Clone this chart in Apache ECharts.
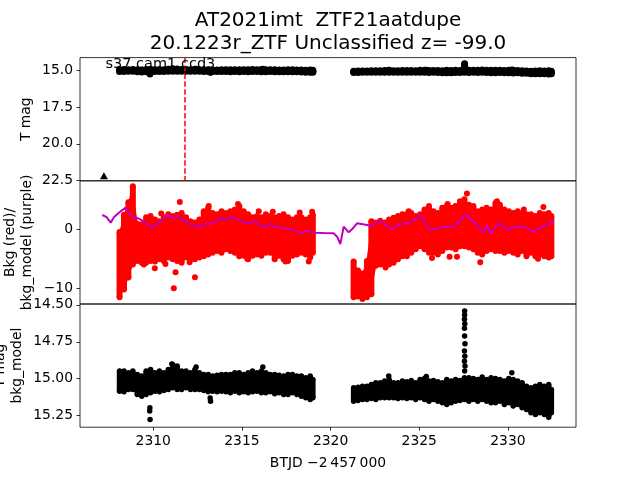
<!DOCTYPE html>
<html><head><meta charset="utf-8">
<script src="https://cdn.jsdelivr.net/npm/echarts@6/dist/echarts.min.js"></script>
<style>html,body{margin:0;padding:0;background:#fff}#c{width:640px;height:480px}</style>
</head><body><div id="c"></div>
<script>
const FONT = 'DejaVu Sans';
// ---------- tick labels ----------
const xTicks = [2310, 2315, 2320, 2325, 2330];
const magTicks = [15.0, 17.5, 20.0, 22.5];
const bkgTicks = [-10, 0];
const zoomTicks = [14.50, 14.75, 15.00, 15.25];
// ---------- segment 1 (BTJD-2457000) ----------
const time1 = [2308.10, 2308.35, 2308.60, 2308.85, 2309.10, 2309.35, 2309.60, 2309.85, 2310.10, 2310.35, 2310.60, 2310.85, 2311.10, 2311.35, 2311.60, 2311.85, 2312.10, 2312.35, 2312.60, 2312.85, 2313.10, 2313.35, 2313.60, 2313.85, 2314.10, 2314.35, 2314.60, 2314.85, 2315.10, 2315.35, 2315.60, 2315.85, 2316.10, 2316.35, 2316.60, 2316.85, 2317.10, 2317.35, 2317.60, 2317.85, 2318.10, 2318.35, 2318.60, 2318.85, 2319.00];
const bkgHi1 = [-0.5, 2.4, 4.5, 7.2, 0.9, 0.8, 2.0, 2.2, 1.6, 1.3, 2.0, 2.5, 2.2, 2.4, 2.7, 2.0, 1.3, 1.1, 1.6, 3.0, 3.6, 2.7, 2.5, 3.0, 2.7, 3.0, 3.3, 3.9, 3.0, 2.5, 2.0, 2.2, 2.0, 2.5, 2.2, 2.0, 2.2, 2.5, 2.0, 1.6, 2.0, 2.0, 1.6, 2.0, 2.4];
const bkgLo1 = [-11.5, -10.2, -8.2, -6.0, -5.4, -5.7, -5.7, -5.4, -5.5, -5.1, -5.4, -4.8, -5.1, -5.4, -5.7, -4.8, -5.1, -5.1, -4.8, -4.6, -4.3, -4.0, -3.7, -4.0, -3.4, -3.7, -4.0, -4.6, -4.5, -5.1, -4.5, -4.3, -4.5, -4.0, -4.0, -5.1, -4.5, -5.1, -5.4, -4.5, -4.3, -4.0, -4.3, -4.8, -4.0];
const magBright1 = [14.948, 14.948, 14.960, 14.948, 14.971, 14.982, 14.948, 14.937, 14.960, 14.948, 14.960, 14.937, 14.903, 14.914, 14.948, 14.948, 14.960, 14.937, 14.960, 14.971, 14.971, 14.982, 14.976, 14.971, 14.971, 14.971, 14.960, 14.960, 14.971, 14.960, 14.948, 14.960, 14.948, 14.960, 14.971, 14.971, 14.976, 14.982, 14.971, 14.971, 14.982, 14.982, 14.993, 14.982, 15.005];
const magFaint1 = [15.084, 15.088, 15.072, 15.072, 15.106, 15.118, 15.106, 15.095, 15.084, 15.088, 15.079, 15.072, 15.061, 15.072, 15.072, 15.061, 15.072, 15.072, 15.072, 15.079, 15.088, 15.084, 15.088, 15.084, 15.088, 15.095, 15.084, 15.095, 15.088, 15.095, 15.088, 15.084, 15.095, 15.095, 15.088, 15.102, 15.095, 15.106, 15.106, 15.095, 15.106, 15.118, 15.129, 15.140, 15.129];
// ---------- segment 2 ----------
const time2 = [2321.30, 2321.55, 2321.80, 2322.05, 2322.30, 2322.55, 2322.80, 2323.05, 2323.30, 2323.55, 2323.80, 2324.05, 2324.30, 2324.55, 2324.80, 2325.05, 2325.30, 2325.55, 2325.80, 2326.05, 2326.30, 2326.55, 2326.80, 2327.05, 2327.30, 2327.55, 2327.80, 2328.05, 2328.30, 2328.55, 2328.80, 2329.05, 2329.30, 2329.55, 2329.80, 2330.05, 2330.30, 2330.55, 2330.80, 2331.05, 2331.30, 2331.55, 2331.80, 2332.05, 2332.30, 2332.45];
const bkgHi2 = [-5.5, -7.0, -7.5, -5.4, 1.3, 1.1, 1.4, 1.1, 1.6, 1.9, 2.2, 2.5, 2.5, 2.7, 2.2, 2.5, 3.3, 3.6, 3.0, 2.7, 3.6, 3.9, 3.6, 3.9, 4.7, 5.0, 4.1, 3.9, 3.0, 3.3, 3.6, 3.3, 4.4, 4.1, 3.3, 3.0, 2.7, 3.0, 2.7, 2.5, 2.5, 2.2, 2.7, 2.5, 2.7, 2.2];
const bkgLo2 = [-11.5, -11.4, -11.8, -11.5, -11.0, -6.2, -6.0, -6.0, -6.0, -5.7, -5.1, -4.6, -4.6, -4.0, -3.4, -2.9, -3.4, -4.0, -4.0, -4.3, -3.7, -3.1, -3.1, -3.4, -2.9, -2.9, -3.1, -3.4, -4.0, -4.3, -3.7, -3.4, -3.7, -3.7, -4.0, -3.7, -4.0, -4.3, -3.7, -4.6, -4.0, -4.6, -4.3, -4.6, -4.8, -4.6];
const magBright2 = [15.061, 15.057, 15.050, 15.050, 15.039, 15.027, 15.027, 15.016, 15.005, 15.027, 15.027, 15.016, 15.021, 15.012, 15.027, 15.005, 14.998, 15.016, 15.012, 15.021, 15.027, 15.005, 15.016, 15.005, 15.012, 14.993, 14.993, 14.998, 15.005, 14.989, 15.005, 14.993, 14.998, 15.005, 15.016, 14.998, 15.005, 15.016, 15.027, 15.050, 15.061, 15.050, 15.039, 15.050, 15.039, 15.072];
const magFaint2 = [15.152, 15.147, 15.140, 15.140, 15.133, 15.140, 15.129, 15.129, 15.129, 15.129, 15.133, 15.129, 15.133, 15.129, 15.140, 15.129, 15.140, 15.152, 15.140, 15.152, 15.163, 15.174, 15.163, 15.152, 15.147, 15.140, 15.152, 15.140, 15.152, 15.140, 15.152, 15.163, 15.163, 15.152, 15.174, 15.163, 15.185, 15.174, 15.197, 15.208, 15.231, 15.242, 15.231, 15.242, 15.253, 15.231];
// ---------- isolated points ----------
const bkgOutliers = [[2310.09, -6.6], [2310.69, -5.9], [2311.26, -7.3], [2311.16, -10.0], [2311.50, 4.55], [2312.35, -8.15], [2315.30, -5.0], [2316.74, 2.9], [2318.26, 2.8], [2318.96, 2.9], [2318.77, -5.5], [2314.78, 4.2], [2313.13, 3.9], [2309.47, -6.0], [2317.46, -5.5], [2312.05, -5.6], [2315.95, 3.0], [2310.45, 2.6],
  [2325.72, -4.9], [2326.71, -4.7], [2327.13, -4.7], [2327.69, 6.0], [2328.44, -5.6], [2329.38, 4.7], [2332.00, 3.7], [2325.55, 3.9], [2326.60, 4.2], [2323.10, -6.5], [2324.40, 3.0], [2330.90, 3.3], [2331.70, -5.0]];
const magOutliers = [[2309.81, 15.197], [2309.80, 15.219], [2309.82, 15.276], [2313.23, 15.152], [2313.21, 15.130], [2312.42, 14.921], [2316.18, 14.921], [2311.05, 14.900], [2323.28, 14.982], [2325.40, 14.985], [2330.22, 14.960], [2332.30, 15.260],
  [2327.56, 14.542], [2327.56, 14.569], [2327.55, 14.598], [2327.57, 14.628], [2327.55, 14.659], [2327.56, 14.711], [2327.58, 14.763], [2327.55, 14.813], [2327.57, 14.847], [2327.55, 14.881], [2327.58, 14.914], [2327.56, 14.948]];
const upperLimit = [[2307.22, 22.17]];
const eventTime = 2311.76;
// ---------- background model ----------
const modelTime = [2307.13, 2307.37, 2307.60, 2307.78, 2308.06, 2308.44, 2308.63, 2308.82, 2309.05, 2309.28, 2309.66, 2309.94, 2310.32, 2310.79, 2311.07, 2311.35, 2311.65, 2311.92, 2312.20, 2312.48, 2312.85, 2313.23, 2313.50, 2313.79, 2314.07, 2314.35, 2314.65, 2314.92, 2315.20, 2315.48, 2315.75, 2316.04, 2316.35, 2316.61, 2316.90, 2317.18, 2317.45, 2317.74, 2318.05, 2318.30, 2318.68, 2318.90, 2319.14, 2319.60, 2320.17, 2320.37, 2320.55, 2320.74, 2321.02, 2321.21, 2321.49, 2322.06, 2322.34, 2322.71, 2322.99, 2323.37, 2323.93, 2324.50, 2325.06, 2325.35, 2325.62, 2326.19, 2326.93, 2327.50, 2327.69, 2328.25, 2328.63, 2328.82, 2329.00, 2329.57, 2329.94, 2330.30, 2330.69, 2331.05, 2331.44, 2332.00, 2332.57];
const modelValue = [2.36, 2.0, 1.07, 2.0, 2.75, 3.6, 2.75, 2.0, 1.9, 1.63, 0.79, 0.23, 1.07, 2.36, 1.9, 2.2, 1.6, 1.07, 0.6, 0.34, 0.79, 0.9, 1.3, 1.9, 1.5, 2.0, 1.7, 1.46, 0.95, 1.07, 1.2, 0.6, 0.34, 0.9, 0.34, 0.23, 0.1, -0.06, -0.4, -0.79, -0.34, -0.5, -0.62, -0.68, -0.73, -1.3, -2.53, 0.39, -0.56, -0.06, 0.96, 0.67, 0.5, 1.52, 0.96, -0.06, 0.84, 0.96, 2.36, 0.9, -0.17, 0.28, 0.39, 2.08, 2.36, 0.67, -0.62, 0.67, -0.84, 1.07, -0.17, 0.3, 0.5, 0.1, -0.45, 0.5, 1.24];

const X_MIN = 2305.87, X_MAX = 2333.84;
// items: [time, low, high, segment]
const mk = (t, lo, hi, s) => t.map((v, i) => [v, lo[i], hi[i], s]);
const bkgBand = mk(time1, bkgLo1, bkgHi1, 1).concat(mk(time2, bkgLo2, bkgHi2, 2));
const magBand = mk(time1, magFaint1, magBright1, 1).concat(mk(time2, magFaint2, magBright2, 2));
const modelLine = modelTime.map((t, i) => [t, modelValue[i]]);

// a dense cloud of points: dots at the edges, filled between them
function cloud(r, color) {
  return function (params, api) {
    const i = params.dataIndexInside;
    const t = api.value(0, i), lo = api.value(1, i), hi = api.value(2, i), seg = api.value(3, i);
    const a = api.coord([t, hi]), b = api.coord([t, lo]);
    const st = { fill: color, opacity: 1, stroke: null };
    const kids = [
      { type: 'circle', shape: { cx: a[0], cy: a[1], r: r }, style: st },
      { type: 'circle', shape: { cx: b[0], cy: b[1], r: r }, style: st },
      { type: 'rect', shape: { x: a[0] - r, y: Math.min(a[1], b[1]), width: 2 * r, height: Math.abs(a[1] - b[1]) }, style: st }
    ];
    if (i + 1 < params.dataInsideLength && api.value(3, i + 1) === seg) {
      const t2 = api.value(0, i + 1);
      const c = api.coord([t2, api.value(2, i + 1)]), d = api.coord([t2, api.value(1, i + 1)]);
      kids.push({ type: 'polygon', shape: { points: [[a[0] - 0.6, a[1]], [c[0] + 0.6, c[1]], [d[0] + 0.6, d[1]], [b[0] - 0.6, b[1]]] }, style: st });
    }
    return { type: 'group', children: kids };
  };
}
const txt = { fontFamily: FONT, fontSize: 13.9, color: '#000' };
const tick = (vals) => ({ show: true, customValues: vals, length: 3.5, inside: false, lineStyle: { color: '#000', width: 0.8 } });
const minus = (v) => (v < 0 ? '\u2212' + Math.abs(v) : String(v));

const grids = [57.6, 180.8, 304].map(top => ({ left: 80, top: top, width: 496, height: 123.2, show: true, borderColor: '#000', borderWidth: 0.8, backgroundColor: 'rgba(0,0,0,0)' }));

const xAxes = [0, 1, 2].map(i => ({
  type: 'value', gridIndex: i, min: X_MIN, max: X_MAX,
  axisLine: { show: false }, splitLine: { show: false },
  axisTick: i === 2 ? tick(xTicks) : { show: false },
  axisLabel: i === 2 ? Object.assign({ customValues: xTicks, margin: 7, formatter: v => String(v) }, txt) : { show: false },
  name: i === 2 ? 'BTJD \u22122\u2009457\u2009000' : '',
  nameLocation: 'middle', nameGap: 29, nameTextStyle: txt
}));

const yAxes = [
  { type: 'value', gridIndex: 0, inverse: true, min: 14.14, max: 22.52,
    axisTick: tick(magTicks), axisLabel: Object.assign({ customValues: magTicks, margin: 7, formatter: v => v.toFixed(1) }, txt) },
  { type: 'value', gridIndex: 1, min: -12.65, max: 8.13,
    axisTick: tick(bkgTicks), axisLabel: Object.assign({ customValues: bkgTicks, margin: 7, formatter: minus }, txt) },
  { type: 'value', gridIndex: 2, inverse: true, min: 14.494, max: 15.328,
    axisTick: tick(zoomTicks), axisLabel: Object.assign({ customValues: zoomTicks, margin: 7, formatter: v => v.toFixed(2) }, txt) }
].map(a => Object.assign(a, { axisLine: { show: false }, splitLine: { show: false } }));

const rotText = (x, y, text) => ({ type: 'text', x: x, y: y, rotation: Math.PI / 2, z: 100,
  style: { text: text, fontFamily: FONT, fontSize: 13.9, lineHeight: 16.7, fill: '#000', align: 'center', verticalAlign: 'middle' } });

const solid = (c) => ({ color: c, opacity: 1 });
const option = {
  animation: false,
  backgroundColor: '#fff',
  grid: grids, xAxis: xAxes, yAxis: yAxes,
  series: [
    { type: 'custom', xAxisIndex: 0, yAxisIndex: 0, clip: true, data: magBand, encode: { x: 0, y: [1, 2] }, itemStyle: { opacity: 1 }, renderItem: cloud(3.5, '#000') },
    { type: 'scatter', xAxisIndex: 0, yAxisIndex: 0, data: magOutliers, symbolSize: 6.5, itemStyle: solid('#000') },
    { type: 'scatter', xAxisIndex: 0, yAxisIndex: 0, data: upperLimit, symbol: 'triangle', symbolSize: [8, 7], itemStyle: solid('#000'),
      markLine: { silent: true, symbol: 'none', label: { show: false }, z: 10, data: [{ xAxis: eventTime }],
        lineStyle: { color: '#ff0000', width: 1.5, type: [5.5, 2.4], opacity: 1 } } },
    { type: 'custom', xAxisIndex: 1, yAxisIndex: 1, clip: true, data: bkgBand, encode: { x: 0, y: [1, 2] }, itemStyle: { opacity: 1 }, renderItem: cloud(3, '#ff0000') },
    { type: 'scatter', xAxisIndex: 1, yAxisIndex: 1, data: bkgOutliers, symbolSize: 6, itemStyle: solid('#ff0000') },
    { type: 'line', xAxisIndex: 1, yAxisIndex: 1, data: modelLine, showSymbol: false, z: 5, lineStyle: { color: '#bf00bf', width: 2 } },
    { type: 'custom', xAxisIndex: 2, yAxisIndex: 2, clip: true, data: magBand, encode: { x: 0, y: [1, 2] }, itemStyle: { opacity: 1 }, renderItem: cloud(2.75, '#000') },
    { type: 'scatter', xAxisIndex: 2, yAxisIndex: 2, data: magOutliers, symbolSize: 5.5, itemStyle: solid('#000') }
  ],
  graphic: [
    { type: 'text', x: 328, y: 21, z: 100, style: { text: 'AT2021imt  ZTF21aatdupe', fontFamily: FONT, fontSize: 20, fill: '#000', align: 'center', verticalAlign: 'middle' } },
    { type: 'text', x: 328, y: 44, z: 100, style: { text: '20.1223r_ZTF Unclassified z= -99.0', fontFamily: FONT, fontSize: 20, fill: '#000', align: 'center', verticalAlign: 'middle' } },
    { type: 'text', x: 105.5, y: 64.5, z: 100, style: { text: 's37 cam1 ccd3', fontFamily: FONT, fontSize: 14.5, fill: '#000', align: 'left', verticalAlign: 'middle' } },
    rotText(26.3, 119.2, 'T mag'),
    rotText(18.8, 242.4, 'Bkg (red)/\nbkg_model (purple)'),
    rotText(9.1, 365.6, 'T mag\nbkg_model')
  ]
};
const chart = echarts.init(document.getElementById('c'), null, { renderer: 'canvas' });
chart.setOption(option);
</script></body></html>
